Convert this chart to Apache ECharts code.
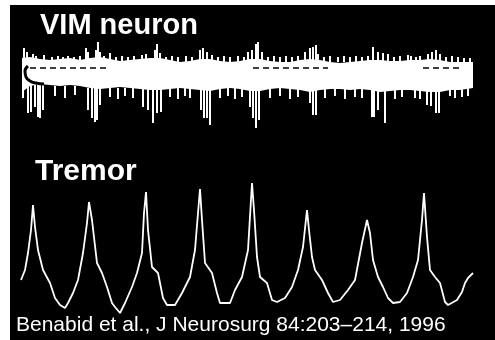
<!DOCTYPE html>
<html>
<head>
<meta charset="utf-8">
<script src="https://cdn.jsdelivr.net/npm/echarts@6/dist/echarts.min.js"></script>
<style>
html,body{margin:0;padding:0;background:#fff;}
#c{width:495px;height:340px;}
</style>
</head>
<body>
<div id="c"></div>
<script>
// ---- Labels ----
const titleNeuron = 'VIM neuron';
const titleTremor = 'Tremor';
const citation = 'Benabid et al., J Neurosurg 84:203\u2013214, 1996';

// ---- VIM neuron recording: envelope of the dense band (t, upper, lower) ----
const bandT      = [22, 30, 40, 50, 60, 70, 80, 90, 100, 110, 120, 130, 140, 150, 160, 170, 180, 190, 200, 210, 220, 230, 240, 250, 260, 270, 280, 290, 300, 310, 320, 330, 340, 350, 360, 370, 380, 390, 400, 410, 420, 430, 440, 450, 460, 473];
const bandUpper  = [58, 57, 59, 60, 59, 58, 60, 58, 57, 59, 61, 60, 59, 58, 58, 60, 62, 61, 59, 59, 61, 62, 61, 59, 59, 61, 62, 62, 60, 59, 60, 62, 63, 62, 61, 60, 60, 61, 61, 60, 60, 59, 60, 62, 62, 62];
const bandLower  = [92, 86, 84, 85, 86, 85, 86, 88, 89, 88, 87, 88, 89, 90, 90, 89, 88, 89, 90, 91, 89, 88, 89, 91, 91, 89, 88, 89, 90, 92, 90, 89, 89, 90, 89, 90, 92, 91, 90, 90, 91, 92, 92, 90, 90, 88];

// ---- VIM neuron spikes: [t, from, to] ----
const spikesUp = [
  [24,48,62],[27,52,62],[33,54,62],[44,55,62],[63,57,62],[68,56,62],[86,48,62],[88,52,62],[96,50,62],[98,42,62],[100,52,62],[110,53,62],
  [142,55,62],[146,54,62],[155,50,62],[157,44,62],[160,53,62],[200,50,62],[203,48,62],[207,52,62],[212,55,62],
  [248,52,62],[252,50,62],[256,44,62],[258,42,62],[262,52,62],[305,52,62],[310,48,62],[313,47,62],[316,45,62],[318,54,62],
  [373,47,62],[378,52,62],[383,53,62],[388,54,62],[408,55,62],[411,56,62],[428,54,62],[432,52,62],[436,50,62],[440,54,62],
  [36,56,62],[52,57,62],[58,56,62],[74,57,62],[80,56,62],[104,56,62],[116,57,62],[122,56,62],[128,57,62],[134,56,62],
  [166,57,62],[172,56,62],[178,57,62],[186,56,62],[192,57,62],[218,57,62],[224,56,62],[230,57,62],[238,56,62],[244,57,62],
  [268,57,62],[274,56,62],[280,57,62],[286,56,62],[292,57,62],[298,56,62],[324,57,62],[330,56,62],[338,57,62],[344,56,62],
  [350,57,62],[356,56,62],[362,57,62],[368,56,62],[394,57,62],[400,56,62],[416,57,62],[420,56,62],[446,57,62],[452,56,62],
  [458,57,62],[464,58,62],[470,58,62]
];
const spikesDown = [
  [23,85,98],[28,85,113],[31,85,112],[35,85,107],[38,85,117],[40,85,118],[43,85,110],
  [88,88,110],[92,88,118],[95,88,122],[97,88,120],[100,88,105],
  [143,88,107],[148,88,110],[153,88,123],[157,88,113],[161,88,112],
  [201,88,110],[204,88,118],[207,88,118],[210,88,125],
  [250,88,107],[253,88,118],[256,88,128],[259,88,120],
  [310,88,103],[313,88,115],[316,88,115],
  [372,88,117],[374,88,117],[378,88,110],[385,88,123],
  [427,88,105],[431,88,106],[436,88,113],[439,88,113],
  [55,86,96],[65,86,98],[75,86,95],[110,88,97],[118,88,99],[125,88,96],[133,88,98],[170,88,97],[178,88,99],[185,88,96],[190,88,98],
  [220,88,98],[228,88,96],[235,88,99],[242,88,97],[270,88,98],[280,88,96],[290,88,99],[298,88,97],[325,88,98],[335,88,96],[345,88,99],
  [355,88,97],[362,88,98],[395,88,99],[402,88,97],[415,88,98],[420,88,99],[450,88,96],[455,88,98],[462,88,97],[468,88,96]
];
// dark dashed trace inside the band: [from t, to t, level]
const innerDash = [[30,108,68],[253,328,68],[423,462,68]];
// dark curl at the start of the recording
const curlT = [28, 25, 26, 30, 36, 44];
const curlY = [66, 71, 77, 81, 83, 84];

// ---- Tremor trace (t, amplitude row) ----
const tremorT = [21,25,28,31,33,35,38,43,50,55,60,65,68,73,78,83,87,89,92,97,102,107,112,115,120,125,132,137,142,144,146,148,152,158,163,167,175,182,190,195,198,200,202,205,212,217,220,230,235,242,248,252,254,257,260,267,272,277,285,292,298,303,307,309,312,315,322,328,333,340,348,355,362,367,370,373,378,383,388,393,400,407,413,418,422,424,427,430,435,440,445,448,457,462,465,468,473];
const tremorY = [280,270,253,230,205,227,250,270,283,298,305,308,303,293,280,253,223,202,220,263,273,287,303,307,313,303,287,273,253,213,192,230,267,273,298,305,305,293,277,250,213,189,220,263,273,293,303,303,290,277,250,183,210,257,277,283,300,302,298,287,270,247,210,230,257,270,280,293,302,300,290,280,243,220,233,260,277,287,298,303,302,293,277,260,220,193,237,270,277,283,302,305,300,292,283,278,273];

const chart = echarts.init(document.getElementById('c'), null, {renderer:'canvas'});
const FONT = "'Liberation Sans', Arial, Helvetica, sans-serif";

function segRender(color, width) {
  return function (params, api) {
    const p1 = api.coord([api.value(0), api.value(1)]);
    const p2 = api.coord([api.value(0), api.value(2)]);
    const x = Math.round(p1[0]);
    return {type:'line', shape:{x1:x, y1:p1[1], x2:x, y2:p2[1]},
            style:{stroke:color, lineWidth:width}};
  };
}

const option = {
  animation: false,
  backgroundColor: '#fff',
  grid: {left:10, top:5, right:0, bottom:0, show:true, backgroundColor:'#000', borderWidth:0},
  xAxis: {type:'value', min:10, max:495, show:false},
  yAxis: {type:'value', min:5, max:340, inverse:true, show:false},
  series: [
    {
      type:'custom', silent:true,
      data:[[0,0]],
      renderItem: function (params, api) {
        const pts = [];
        for (let i = 0; i < bandT.length; i++) pts.push(api.coord([bandT[i], bandUpper[i]]));
        for (let i = bandT.length - 1; i >= 0; i--) pts.push(api.coord([bandT[i], bandLower[i]]));
        return {type:'polygon', shape:{points:pts}, style:{fill:'#fff'}};
      }
    },
    {type:'custom', silent:true, data:spikesUp, encode:{x:0, y:[1,2]}, renderItem:segRender('#fff', 2)},
    {type:'custom', silent:true, data:spikesDown, encode:{x:0, y:[1,2]}, renderItem:segRender('#fff', 2)},
    {
      type:'custom', silent:true, data:innerDash, encode:{x:[0,1], y:2},
      renderItem: function (params, api) {
        const p1 = api.coord([api.value(0), api.value(2)]);
        const p2 = api.coord([api.value(1), api.value(2)]);
        return {type:'line', shape:{x1:p1[0], y1:p1[1], x2:p2[0], y2:p2[1]},
                style:{stroke:'#000', lineWidth:1.5, lineDash:[6,4]}};
      }
    },
    {
      type:'line', silent:true, symbol:'none', smooth:true,
      data: curlT.map((t, i) => [t, curlY[i]]),
      lineStyle:{color:'#000', width:3}
    },
    {
      type:'line', silent:true, symbol:'none',
      data: tremorT.map((t, i) => [t, tremorY[i]]),
      lineStyle:{color:'#fff', width:1.8}
    }
  ],
  graphic: [
    {type:'text', left:40, top:11, style:{text:titleNeuron, fill:'#fff', font:"bold 29px " + FONT}},
    {type:'text', left:35, top:157, style:{text:titleTremor, fill:'#fff', font:"bold 30px " + FONT}},
    {type:'text', left:16, top:315, style:{text:citation, fill:'#fff', font:"21px " + FONT}}
  ]
};
chart.setOption(option);
</script>
</body>
</html>
